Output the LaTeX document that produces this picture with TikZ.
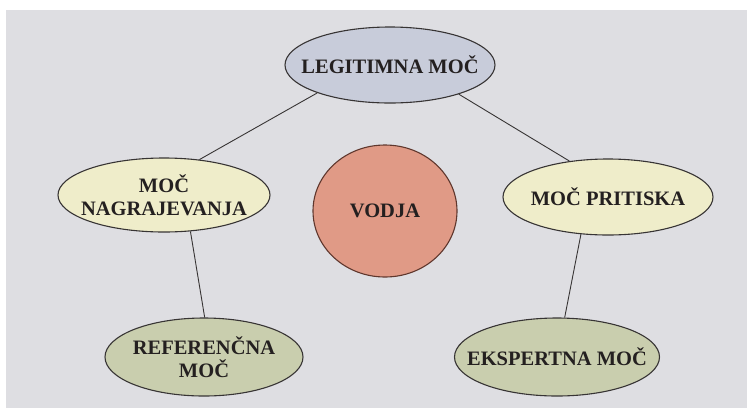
\documentclass[tikz,border=0pt]{standalone}
\usepackage{fontspec}
\setmainfont{Liberation Serif}
\usetikzlibrary{shapes.geometric}

\definecolor{paper}{RGB}{222,222,226}
\definecolor{legfill}{RGB}{200,204,218}
\definecolor{creamfill}{RGB}{239,237,202}
\definecolor{olivefill}{RGB}{201,206,174}
\definecolor{leaderfill}{RGB}{224,154,134}
\definecolor{rim}{RGB}{55,52,52}
\definecolor{leaderrim}{RGB}{95,55,45}
\definecolor{ink}{RGB}{36,32,32}

% negative inner sep lets the minimum sizes alone fix each ellipse
\tikzset{
  power/.style={ellipse, draw=rim, line width=1.1pt, inner sep=-40pt,
    minimum width=210pt, minimum height=76pt, align=center,
    text=ink, font=\fontsize{20.5}{22.5}\selectfont\bfseries},
  leader/.style={power, draw=leaderrim, minimum width=144pt, minimum height=132pt},
  link/.style={draw=rim, line width=0.9pt}
}

\begin{document}
\begin{tikzpicture}[x=1pt,y=-1pt]
  \useasboundingbox (0,0) rectangle (747,408);
  \fill[paper] (6,10) rectangle (747,408);

  % the five kinds of power around the leader
  \node[power, fill=legfill] (leg) at (390,65) {LEGITIMNA MOČ};
  \node[power, fill=creamfill, minimum width=212pt, minimum height=74pt] (nag) at (164,195) {MOČ\\NAGRAJEVANJA};
  \node[power, fill=creamfill] (pri) at (608,197) {MOČ PRITISKA};
  \node[power, fill=olivefill, minimum width=198pt, minimum height=78pt] (ref) at (204,357) {REFERENČNA\\MOČ};
  \node[power, fill=olivefill, minimum width=205pt, minimum height=78pt] (eks) at (557,357) {EKSPERTNA MOČ};

  % the leader in the middle
  \node[leader, fill=leaderfill] (vod) at (385,211) {VODJA};

  % connecting lines
  \draw[link] (leg.201) -- (nag.45);
  \draw[link] (leg.337) -- (pri.137);
  \draw[link] (nag.306) -- (ref.89);
  \draw[link] (pri.234) -- (eks.79);
\end{tikzpicture}
\end{document}
